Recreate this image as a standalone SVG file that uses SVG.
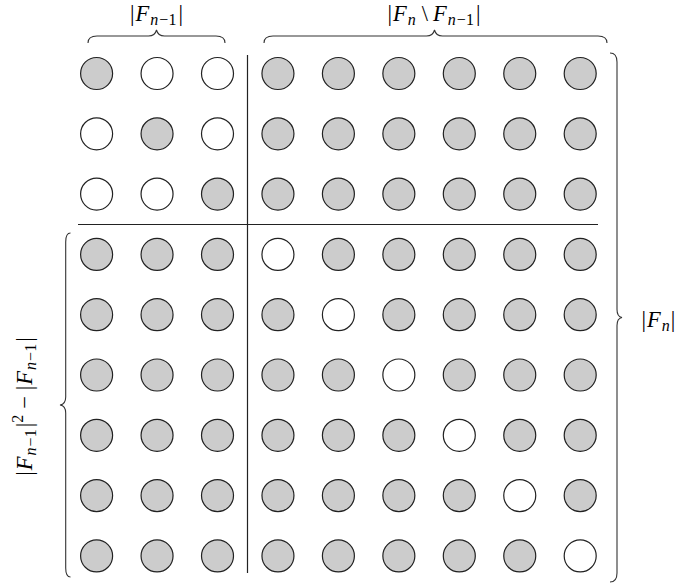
<svg xmlns="http://www.w3.org/2000/svg" width="675" height="585" viewBox="0 0 675 585">
<style>
.c{stroke:#222;stroke-width:1.2;fill:#cccccc}
.w{fill:#ffffff}
.ln{stroke:#222;stroke-width:1.2;fill:none}
.br{stroke:#333;stroke-width:1.1;fill:none}
.lbl{font-family:"Liberation Serif","Times New Roman",serif;font-size:22.5px;fill:#000}
.it{font-style:italic}
.sub{font-size:16px}
</style>
<rect width="675" height="585" fill="#fff"/>
<g id="connectors">
<line class="ln" x1="247.5" y1="55" x2="247.5" y2="573"/>
<line class="ln" x1="78" y1="224.5" x2="598" y2="224.5"/>
</g>
<g id="braces">
<path class="br" d="M88,43 C88,39 91,36 97,36 L148.5,36 C152.5,36 155.5,34 156.5,30 C157.5,34 160.5,36 164.5,36 L216,36 C222,36 225,39 225,43"/>
<path class="br" d="M264,43 C264,39 267,36 273,36 L426.5,36 C430.5,36 433.5,34 434.5,30 C435.5,34 438.5,36 442.5,36 L598,36 C604,36 607,39 607,43"/>
<path class="br" d="M610,53 C614,53 617,56 617,62 L617,309.5 C617,314 619,317 622,317.5 C619,318 617,321 617,325.5 L617,573 C617,579 614,582 610,582"/>
<path class="br" d="M70.5,233 C67.5,233 65.7,236 65.7,242 L65.7,397 C65.7,401.5 63.5,404.5 60,405 C63.5,405.5 65.7,408.5 65.7,413 L65.7,568 C65.7,574 67.5,577 70.5,577"/>
</g>
<g id="labels">
<text class="lbl" x="156.5" y="20.5" text-anchor="middle">|<tspan class="it" dx="1">F</tspan><tspan class="sub it" dy="4" dx="1">n</tspan><tspan class="sub" dx="1">−1</tspan><tspan dy="-4" dx="2">|</tspan></text>
<text class="lbl" x="434" y="20.5" text-anchor="middle">|<tspan class="it" dx="1">F</tspan><tspan class="sub it" dy="4" dx="1">n</tspan><tspan dy="-4" dx="6">\</tspan><tspan class="it" dx="5">F</tspan><tspan class="sub it" dy="4" dx="1">n</tspan><tspan class="sub" dx="1">−1</tspan><tspan dy="-4" dx="2">|</tspan></text>
<text class="lbl" transform="translate(32,406.5) rotate(-90)" x="0" y="0" text-anchor="middle">|<tspan class="it" dx="1">F</tspan><tspan class="sub it" dy="4" dx="1">n</tspan><tspan class="sub" dx="1">−1</tspan><tspan dy="-4" dx="2">|</tspan><tspan class="sub" dy="-9">2</tspan><tspan dy="9" dx="6">−</tspan><tspan dx="6">|</tspan><tspan class="it" dx="1">F</tspan><tspan class="sub it" dy="4" dx="1">n</tspan><tspan class="sub" dx="1">−1</tspan><tspan dy="-4" dx="2">|</tspan></text>
<text class="lbl" x="641.5" y="327">|<tspan class="it" dx="1">F</tspan><tspan class="sub it" dy="4" dx="1">n</tspan><tspan dy="-4" dx="1">|</tspan></text>
</g>
<g id="n-1-1"><circle class="c" cx="96.6" cy="73.5" r="16"/></g>
<g id="n-1-2"><circle class="c w" cx="157.05" cy="73.5" r="16"/></g>
<g id="n-1-3"><circle class="c w" cx="217.5" cy="73.5" r="16"/></g>
<g id="n-1-4"><circle class="c" cx="277.95" cy="73.5" r="16"/></g>
<g id="n-1-5"><circle class="c" cx="338.4" cy="73.5" r="16"/></g>
<g id="n-1-6"><circle class="c" cx="398.85" cy="73.5" r="16"/></g>
<g id="n-1-7"><circle class="c" cx="459.3" cy="73.5" r="16"/></g>
<g id="n-1-8"><circle class="c" cx="519.75" cy="73.5" r="16"/></g>
<g id="n-1-9"><circle class="c" cx="580.2" cy="73.5" r="16"/></g>
<g id="n-2-1"><circle class="c w" cx="96.6" cy="133.8" r="16"/></g>
<g id="n-2-2"><circle class="c" cx="157.05" cy="133.8" r="16"/></g>
<g id="n-2-3"><circle class="c w" cx="217.5" cy="133.8" r="16"/></g>
<g id="n-2-4"><circle class="c" cx="277.95" cy="133.8" r="16"/></g>
<g id="n-2-5"><circle class="c" cx="338.4" cy="133.8" r="16"/></g>
<g id="n-2-6"><circle class="c" cx="398.85" cy="133.8" r="16"/></g>
<g id="n-2-7"><circle class="c" cx="459.3" cy="133.8" r="16"/></g>
<g id="n-2-8"><circle class="c" cx="519.75" cy="133.8" r="16"/></g>
<g id="n-2-9"><circle class="c" cx="580.2" cy="133.8" r="16"/></g>
<g id="n-3-1"><circle class="c w" cx="96.6" cy="194.1" r="16"/></g>
<g id="n-3-2"><circle class="c w" cx="157.05" cy="194.1" r="16"/></g>
<g id="n-3-3"><circle class="c" cx="217.5" cy="194.1" r="16"/></g>
<g id="n-3-4"><circle class="c" cx="277.95" cy="194.1" r="16"/></g>
<g id="n-3-5"><circle class="c" cx="338.4" cy="194.1" r="16"/></g>
<g id="n-3-6"><circle class="c" cx="398.85" cy="194.1" r="16"/></g>
<g id="n-3-7"><circle class="c" cx="459.3" cy="194.1" r="16"/></g>
<g id="n-3-8"><circle class="c" cx="519.75" cy="194.1" r="16"/></g>
<g id="n-3-9"><circle class="c" cx="580.2" cy="194.1" r="16"/></g>
<g id="n-4-1"><circle class="c" cx="96.6" cy="254.4" r="16"/></g>
<g id="n-4-2"><circle class="c" cx="157.05" cy="254.4" r="16"/></g>
<g id="n-4-3"><circle class="c" cx="217.5" cy="254.4" r="16"/></g>
<g id="n-4-4"><circle class="c w" cx="277.95" cy="254.4" r="16"/></g>
<g id="n-4-5"><circle class="c" cx="338.4" cy="254.4" r="16"/></g>
<g id="n-4-6"><circle class="c" cx="398.85" cy="254.4" r="16"/></g>
<g id="n-4-7"><circle class="c" cx="459.3" cy="254.4" r="16"/></g>
<g id="n-4-8"><circle class="c" cx="519.75" cy="254.4" r="16"/></g>
<g id="n-4-9"><circle class="c" cx="580.2" cy="254.4" r="16"/></g>
<g id="n-5-1"><circle class="c" cx="96.6" cy="314.7" r="16"/></g>
<g id="n-5-2"><circle class="c" cx="157.05" cy="314.7" r="16"/></g>
<g id="n-5-3"><circle class="c" cx="217.5" cy="314.7" r="16"/></g>
<g id="n-5-4"><circle class="c" cx="277.95" cy="314.7" r="16"/></g>
<g id="n-5-5"><circle class="c w" cx="338.4" cy="314.7" r="16"/></g>
<g id="n-5-6"><circle class="c" cx="398.85" cy="314.7" r="16"/></g>
<g id="n-5-7"><circle class="c" cx="459.3" cy="314.7" r="16"/></g>
<g id="n-5-8"><circle class="c" cx="519.75" cy="314.7" r="16"/></g>
<g id="n-5-9"><circle class="c" cx="580.2" cy="314.7" r="16"/></g>
<g id="n-6-1"><circle class="c" cx="96.6" cy="375" r="16"/></g>
<g id="n-6-2"><circle class="c" cx="157.05" cy="375" r="16"/></g>
<g id="n-6-3"><circle class="c" cx="217.5" cy="375" r="16"/></g>
<g id="n-6-4"><circle class="c" cx="277.95" cy="375" r="16"/></g>
<g id="n-6-5"><circle class="c" cx="338.4" cy="375" r="16"/></g>
<g id="n-6-6"><circle class="c w" cx="398.85" cy="375" r="16"/></g>
<g id="n-6-7"><circle class="c" cx="459.3" cy="375" r="16"/></g>
<g id="n-6-8"><circle class="c" cx="519.75" cy="375" r="16"/></g>
<g id="n-6-9"><circle class="c" cx="580.2" cy="375" r="16"/></g>
<g id="n-7-1"><circle class="c" cx="96.6" cy="435.3" r="16"/></g>
<g id="n-7-2"><circle class="c" cx="157.05" cy="435.3" r="16"/></g>
<g id="n-7-3"><circle class="c" cx="217.5" cy="435.3" r="16"/></g>
<g id="n-7-4"><circle class="c" cx="277.95" cy="435.3" r="16"/></g>
<g id="n-7-5"><circle class="c" cx="338.4" cy="435.3" r="16"/></g>
<g id="n-7-6"><circle class="c" cx="398.85" cy="435.3" r="16"/></g>
<g id="n-7-7"><circle class="c w" cx="459.3" cy="435.3" r="16"/></g>
<g id="n-7-8"><circle class="c" cx="519.75" cy="435.3" r="16"/></g>
<g id="n-7-9"><circle class="c" cx="580.2" cy="435.3" r="16"/></g>
<g id="n-8-1"><circle class="c" cx="96.6" cy="495.6" r="16"/></g>
<g id="n-8-2"><circle class="c" cx="157.05" cy="495.6" r="16"/></g>
<g id="n-8-3"><circle class="c" cx="217.5" cy="495.6" r="16"/></g>
<g id="n-8-4"><circle class="c" cx="277.95" cy="495.6" r="16"/></g>
<g id="n-8-5"><circle class="c" cx="338.4" cy="495.6" r="16"/></g>
<g id="n-8-6"><circle class="c" cx="398.85" cy="495.6" r="16"/></g>
<g id="n-8-7"><circle class="c" cx="459.3" cy="495.6" r="16"/></g>
<g id="n-8-8"><circle class="c w" cx="519.75" cy="495.6" r="16"/></g>
<g id="n-8-9"><circle class="c" cx="580.2" cy="495.6" r="16"/></g>
<g id="n-9-1"><circle class="c" cx="96.6" cy="555.9" r="16"/></g>
<g id="n-9-2"><circle class="c" cx="157.05" cy="555.9" r="16"/></g>
<g id="n-9-3"><circle class="c" cx="217.5" cy="555.9" r="16"/></g>
<g id="n-9-4"><circle class="c" cx="277.95" cy="555.9" r="16"/></g>
<g id="n-9-5"><circle class="c" cx="338.4" cy="555.9" r="16"/></g>
<g id="n-9-6"><circle class="c" cx="398.85" cy="555.9" r="16"/></g>
<g id="n-9-7"><circle class="c" cx="459.3" cy="555.9" r="16"/></g>
<g id="n-9-8"><circle class="c" cx="519.75" cy="555.9" r="16"/></g>
<g id="n-9-9"><circle class="c w" cx="580.2" cy="555.9" r="16"/></g>
</svg>
